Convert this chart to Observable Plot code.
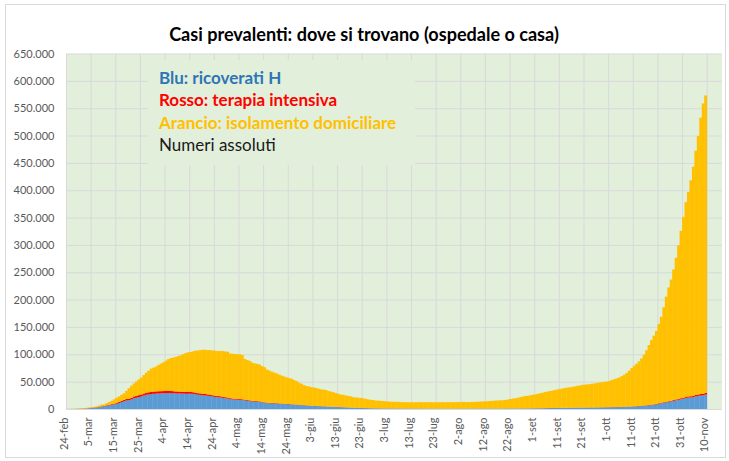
<!DOCTYPE html>
<html>
<head>
<meta charset="utf-8">
<script src="https://cdn.jsdelivr.net/npm/d3@7"></script>
<script src="https://cdn.jsdelivr.net/npm/@observablehq/plot@0.6"></script>
<style>
  body { margin: 0; background: #ffffff; }
  #chart { position: relative; width: 729px; height: 461px; overflow: hidden; font-family: Lato, "Open Sans", sans-serif; }
  #frame { position: absolute; left: 5px; top: 4px; width: 721px; height: 454px; border: 1px solid #d9d9d9; box-sizing: border-box; pointer-events: none; }
  #title { position: relative; width: 729px; height: 46px; }
  #title span { position: absolute; white-space: nowrap; font-weight: 700; color: #000; line-height: 1; }
  #legend { position: absolute; left: 148px; top: 60px; width: 267px; height: 105px; background: #E2EFDA; }
  .leg { position: absolute; white-space: nowrap; line-height: 1; }
  svg { display: block; }
</style>
</head>
<body>
<div id="chart">
  <div id="frame"></div>
  <div id="title"><span id="titleText">Casi prevalenti: dove si trovano (ospedale o casa)</span></div>
  <div id="plotHolder"></div>
  <div id="legend"></div>
</div>
<script>
// ---------- DATA ----------
const inizio = "2020-02-24";       // first day of the series
const fineAsse = "2020-11-16";     // end of the category axis (empty days after the data)

const etichetteX = ["24-feb","5-mar","15-mar","25-mar","4-apr","14-apr","24-apr","4-mag","14-mag","24-mag",
  "3-giu","13-giu","23-giu","3-lug","13-lug","23-lug","2-ago","12-ago","22-ago","1-set","11-set","21-set",
  "1-ott","11-ott","21-ott","31-ott","10-nov"];

const yTicks = [0,50000,100000,150000,200000,250000,300000,350000,400000,450000,500000,550000,600000,650000];

// Blu: ricoverati con sintomi (daily, 24-feb .. 9-nov)
const ricoverati = [
  101,114,128,248,345,401,
  639,742,1034,1346,1790,2394,2651,3557,4316,5038,5838,6650,7426,8372,9663,11025,12894,14363,15757,16020,17708,19846,20692,21937,23112,24753,26029,26676,27386,27795,28192,
  28403,28540,28741,29010,28949,28976,28718,28485,28399,28242,28144,27847,28023,28011,27643,26893,26033,25786,25007,24906,24134,23805,22871,22068,21533,21372,20353,19723,19210,18149,
  17569,17357,17242,16823,16270,15769,15174,14636,13834,13618,13539,12865,12172,11453,10792,10400,10311,10207,9991,9624,9269,8957,8695,8613,8185,7917,7729,7379,7094,6680,6387,
  6021,5742,5503,5301,5002,4864,4729,4581,4320,4131,3893,3747,3594,3301,3120,2867,2729,2474,2313,2182,2011,1903,1742,1600,1486,1390,1262,1208,1146,1090,
  1049,1025,993,988,972,982,963,951,927,880,858,841,828,830,812,812,784,789,778,749,732,713,702,707,705,716,717,737,749,749,755,
  764,776,777,786,801,787,794,800,813,819,834,844,843,856,857,843,871,879,884,903,926,945,964,980,1005,1034,1068,1105,1131,1178,1226,
  1284,1346,1376,1435,1541,1626,1683,1760,1836,1897,1951,2012,2053,2122,2222,2300,2359,2380,2380,2415,2487,2500,2566,2572,2604,2658,2753,2846,2974,3048,
  3142,3204,3287,3386,3487,3625,3782,3925,4086,4336,4519,4821,5076,5470,5796,6178,6617,7131,7676,8454,9694,10549,11287,12006,12997,13955,14981,15964,16994,17953,18902,
  19840,20981,21114,22116,23256,24005,24796,25110,26440
];

// Rosso: terapia intensiva
const terapia = [
  27,35,36,56,64,105,
  140,166,229,295,351,462,567,650,733,877,1028,1153,1328,1518,1672,1851,2060,2257,2498,2655,2857,3009,3204,3396,3489,3612,3732,3856,3906,3981,4023,
  4035,4053,4068,3994,3977,3898,3792,3693,3605,3497,3381,3343,3260,3186,3079,2936,2812,2733,2635,2573,2471,2384,2267,2173,2102,2009,1956,1863,1795,1694,
  1578,1539,1501,1479,1427,1333,1311,1168,1034,1027,999,952,893,855,808,775,762,749,716,676,640,595,572,553,541,521,505,489,475,450,435,
  424,408,353,338,316,293,287,283,263,249,236,227,220,209,207,192,178,168,161,152,148,127,115,107,103,97,94,92,90,87,
  82,79,76,72,71,69,67,65,64,64,64,63,62,60,57,51,50,49,49,48,47,47,49,45,43,42,41,40,41,41,42,
  43,41,42,42,45,46,49,53,55,56,56,58,58,62,65,66,68,69,69,69,68,69,67,66,65,66,69,70,72,79,86,
  94,107,109,120,133,142,143,143,150,164,174,182,187,201,207,208,215,222,220,239,239,244,247,246,254,264,271,280,277,280,
  291,297,291,294,303,319,337,358,387,390,420,452,514,539,586,638,705,750,797,870,926,992,1049,1128,1208,1284,1411,1536,1651,1746,1843,
  1939,2022,2225,2292,2391,2515,2634,2749,2849
];

// Totale casi prevalenti (top of each stacked bar; Arancio = totale - blu - rosso)
const totale = [
  221,311,385,588,821,1049,
  1577,1835,2263,2706,3296,3916,5061,6387,7985,8514,10590,12839,14955,17750,20603,23073,26062,28710,33190,37860,42681,46638,50418,54030,57521,62013,66414,70065,73880,75528,77635,
  80572,83049,85388,88274,91246,93187,94067,95262,96877,98273,100269,102253,103616,104291,105418,106607,106962,107771,108257,108237,107709,107699,106848,106527,105847,106103,105813,105205,104657,101551,
  100943,100704,100179,99980,98467,91528,89624,87961,84842,83324,82488,81266,78457,76440,72070,70187,68351,66553,65129,62752,60960,59322,57752,56594,55300,52942,50966,47986,46175,43691,42075,
  41367,39893,39297,38429,36976,35877,35262,34730,32872,31710,30637,28997,27485,26274,25909,24569,23925,23101,21543,20972,20637,20214,19573,18655,17638,16836,16496,15563,15255,15060,
  14621,14242,13595,13428,13303,13179,13157,12919,12565,12456,12494,12301,12404,12248,12322,12493,12456,12368,12440,12581,12248,12301,12322,12368,12404,12440,12456,12482,12494,12565,12581,
  12646,12922,12953,12474,12616,12774,13027,13208,13368,13595,13791,14081,14406,14867,15089,15360,15594,15950,16014,16678,17503,18438,19195,19714,20753,21932,22886,23805,24205,25205,26078,
  26754,27817,28915,29905,31194,32078,32993,33789,34857,35708,36767,37503,38509,39187,39712,40532,41413,42457,43161,44098,44500,45000,45489,46114,46780,47718,48593,49000,49618,50323,
  51263,53100,54700,56000,57700,60100,62600,65900,70100,74800,79075,82764,87193,92445,99266,107312,116935,126237,134003,142739,155442,168613,186002,205470,222241,236684,255090,276457,299191,325786,351386,
  378190,396512,418142,443235,472348,499118,532536,558636,573334
];

const legendaTesti = ["Blu: ricoverati H", "Rosso: terapia intensiva", "Arancio: isolamento domiciliare", "Numeri assoluti"];
const legendaColori = ["#2E75B6", "#FF0000", "#FFC000", "#1a1a1a"];
const legendaPeso = [700, 700, 700, 400];

// ---------- BUILD ----------
const start = new Date(inizio);
const giorni = d3.utcDay.range(start, d3.utcDay.offset(start, totale.length));
const mesi = {feb: 1, mar: 2, apr: 3, mag: 4, giu: 5, lug: 6, ago: 7, set: 8, ott: 9, nov: 10};
const tickDates = etichetteX.map(s => { const [g, m] = s.split("-"); return new Date(Date.UTC(2020, mesi[m], +g)); });

const rows = giorni.map((g, i) => ({
  x1: g, x2: d3.utcDay.offset(g, 1),
  b: ricoverati[i], r: ricoverati[i] + terapia[i], t: totale[i]
}));

const it = d3.formatLocale({decimal: ",", thousands: ".", grouping: [3], currency: ["€", ""]});
const fmt = it.format(",d");

const plot = Plot.plot({
  width: 729,
  height: 415,
  marginLeft: 66,
  marginRight: 7.5,
  marginTop: 7.5,
  marginBottom: 52,
  style: {fontFamily: "Lato, 'Open Sans', sans-serif", fontSize: "11px", background: "transparent", overflow: "visible"},
  x: {type: "utc", domain: [start, new Date(fineAsse)], axis: null},
  y: {domain: [0, 650000], axis: null},
  marks: [
    Plot.frame({fill: "#E2EFDA", stroke: "none"}),
    Plot.ruleY(yTicks, {y: d => d, stroke: "#D9D9D9", strokeWidth: 1}),
    Plot.ruleX(tickDates, {x: d => d, stroke: "#D9D9D9", strokeWidth: 1}),
    Plot.rect(rows, {x1: "x1", x2: "x2", y1: d => 0, y2: "b", fill: "#5B9BD5", insetRight: -0.35}),
    Plot.rect(rows, {x1: "x1", x2: "x2", y1: "b", y2: "r", fill: "#FF0000", insetRight: -0.35}),
    Plot.rect(rows, {x1: "x1", x2: "x2", y1: "r", y2: "t", fill: "#FFC000", insetRight: -0.35}),
    Plot.ruleY([0], {y: d => d, stroke: "#D9D9D9", strokeWidth: 1.2}),
    Plot.text(yTicks, {y: d => d, text: d => fmt(d), frameAnchor: "left", textAnchor: "end", dx: -12, fill: "#595959", fontSize: 11}),
    Plot.text(tickDates, {
      x: d => d3.utcHour.offset(d, 12), text: (d, i) => etichetteX[i],
      frameAnchor: "bottom", rotate: -90, textAnchor: "end", dy: 8, fill: "#595959", fontSize: 11
    })
  ]
});
document.getElementById("plotHolder").appendChild(plot);

// ---------- TEXT (title + legend), sized to match the reference widths ----------
const ctx = document.createElement("canvas").getContext("2d");
function fitSize(text, weight, target, family) {
  ctx.font = `${weight} 100px ${family}`;
  return 100 * target / ctx.measureText(text).width;
}
const fam = "Lato";
const tSize = Math.min(19, fitSize("Casi prevalenti: dove si trovano (ospedale o casa)", 700, 390, fam));
const tEl = document.getElementById("titleText");
tEl.style.fontSize = tSize + "px";
tEl.style.fontFamily = fam;
ctx.font = `700 ${tSize}px ${fam}`;
const tW = ctx.measureText(tEl.textContent).width;
tEl.style.left = (364 - tW / 2) + "px";
tEl.style.top = (41 - 0.887 * tSize) + "px";

const lSize = Math.min(17, fitSize(legendaTesti[2], 700, 246, fam));
const legend = document.getElementById("legend");
const baselines = [84, 106.5, 129, 151.5];
legendaTesti.forEach((s, i) => {
  const el = document.createElement("div");
  el.className = "leg";
  el.textContent = s;
  el.style.fontFamily = fam;
  el.style.fontSize = lSize + "px";
  el.style.fontWeight = legendaPeso[i];
  el.style.color = legendaColori[i];
  el.style.left = (159 - 148) + "px";
  el.style.top = (baselines[i] - 0.887 * lSize - 60) + "px";
  legend.appendChild(el);
});
</script>
</body>
</html>
